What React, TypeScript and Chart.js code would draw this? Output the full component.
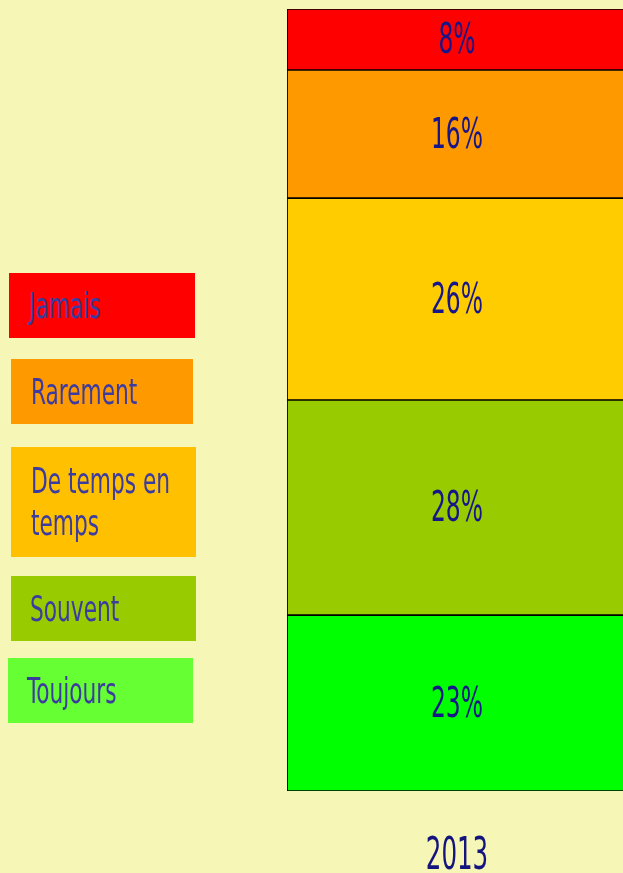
import React, { useEffect, useRef } from "react";
import { Chart, registerables } from "chart.js";

Chart.register(...registerables);

// ---- data ----
const categories = ["2013"];
const seriesNames = ["Toujours", "Souvent", "De temps en temps", "Rarement", "Jamais"];
const seriesValues = [22.5, 27.5, 25.8, 16.4, 7.8];
const valueLabels = ["23%", "28%", "26%", "16%", "8%"];
const barColors = ["#00ff00", "#99cc00", "#ffcc00", "#ff9900", "#ff0000"];
const legendColors = ["#66ff33", "#99cc00", "#ffc000", "#ff9900", "#ff0000"];

// ---- layout (legend boxes, top to bottom: Jamais ... Toujours) ----
const legendBoxes = [
  { left: 9, top: 273, width: 186, height: 65 },
  { left: 11, top: 359, width: 182, height: 65 },
  { left: 11, top: 447, width: 185, height: 110 },
  { left: 11, top: 576, width: 185, height: 65 },
  { left: 8, top: 658, width: 185, height: 65 },
];
const legendPadLeft = [20, 20, 20, 19, 19];

const BG = "#f6f6b6";
const FONT = "'DejaVu Sans Condensed', 'DejaVu Sans', sans-serif";

const labelPlugin = {
  id: "valueLabels",
  afterDatasetsDraw(chart: any) {
    const ctx = chart.ctx;
    // segment value labels
    chart.data.datasets.forEach((ds: any, i: number) => {
      const meta = chart.getDatasetMeta(i);
      meta.data.forEach((bar: any, j: number) => {
        const cy = (bar.y + bar.base) / 2;
        ctx.save();
        ctx.font = "42px " + FONT;
        ctx.fillStyle = "#16168a";
        ctx.textAlign = "center";
        ctx.textBaseline = "middle";
        ctx.translate(bar.x, cy);
        ctx.scale(0.62, 1);
        ctx.fillText(ds.valueLabels[j], 0, 3);
        ctx.restore();
      });
    });
    // category labels, placed through the x scale
    const xs = chart.scales.x;
    chart.data.labels.forEach((lab: string, i: number) => {
      const x = xs.getPixelForTick(i);
      ctx.save();
      ctx.font = "44px " + FONT;
      ctx.fillStyle = "#14147e";
      ctx.textAlign = "center";
      ctx.textBaseline = "middle";
      ctx.translate(x, chart.chartArea.bottom + 67);
      ctx.scale(0.62, 1);
      ctx.fillText(lab, 0, 0);
      ctx.restore();
    });
  },
};

export default function App() {
  const canvasRef = useRef<HTMLCanvasElement | null>(null);

  useEffect(() => {
    const canvas = canvasRef.current;
    if (!canvas) return;
    const chart = new Chart(canvas, {
      type: "bar",
      data: {
        labels: categories,
        datasets: seriesNames.map((name, i) => ({
          label: name,
          data: [seriesValues[i]],
          backgroundColor: barColors[i],
          borderColor: "#000000",
          borderWidth: 1.2,
          borderSkipped: false,
          barPercentage: 1,
          categoryPercentage: 1,
          valueLabels: [valueLabels[i]],
        })) as any,
      },
      options: {
        responsive: false,
        animation: false,
        layout: { padding: { left: 287, top: 9, right: 13, bottom: 0 } },
        plugins: {
          legend: { display: false },
          tooltip: { enabled: false },
        },
        scales: {
          x: {
            stacked: true,
            grid: { display: false, drawTicks: false },
            border: { display: false },
            ticks: { display: false },
            afterFit: (scale: any) => {
              scale.height = 82;
            },
          },
          y: {
            stacked: true,
            display: false,
            min: 0,
            max: 100,
          },
        },
      },
      plugins: [labelPlugin],
    });
    return () => chart.destroy();
  }, []);

  const order = [4, 3, 2, 1, 0];

  return (
    <div
      style={{
        position: "fixed",
        left: 0,
        top: 0,
        width: 623,
        height: 873,
        overflow: "hidden",
        background: BG,
      }}
    >
      <canvas
        ref={canvasRef}
        width={640}
        height={873}
        style={{ position: "absolute", left: 0, top: 0, width: 640, height: 873 }}
      />
      {order.map((idx, k) => {
        const b = legendBoxes[k];
        return (
          <div
            key={seriesNames[idx]}
            style={{
              position: "absolute",
              left: b.left,
              top: b.top,
              width: b.width,
              height: b.height,
              background: legendColors[idx],
              boxSizing: "border-box",
              paddingLeft: legendPadLeft[k],
              display: "flex",
              alignItems: "center",
              overflow: "hidden",
            }}
          >
            <span
              style={{
                display: "inline-block",
                width: 245,
                flex: "none",
                transform: "scaleX(0.67)",
                transformOrigin: "left center",
                fontFamily: FONT,
                fontSize: 36,
                lineHeight: "42px",
                color: "#3c3ca0",
              }}
            >
              {seriesNames[idx]}
            </span>
          </div>
        );
      })}
    </div>
  );
}
